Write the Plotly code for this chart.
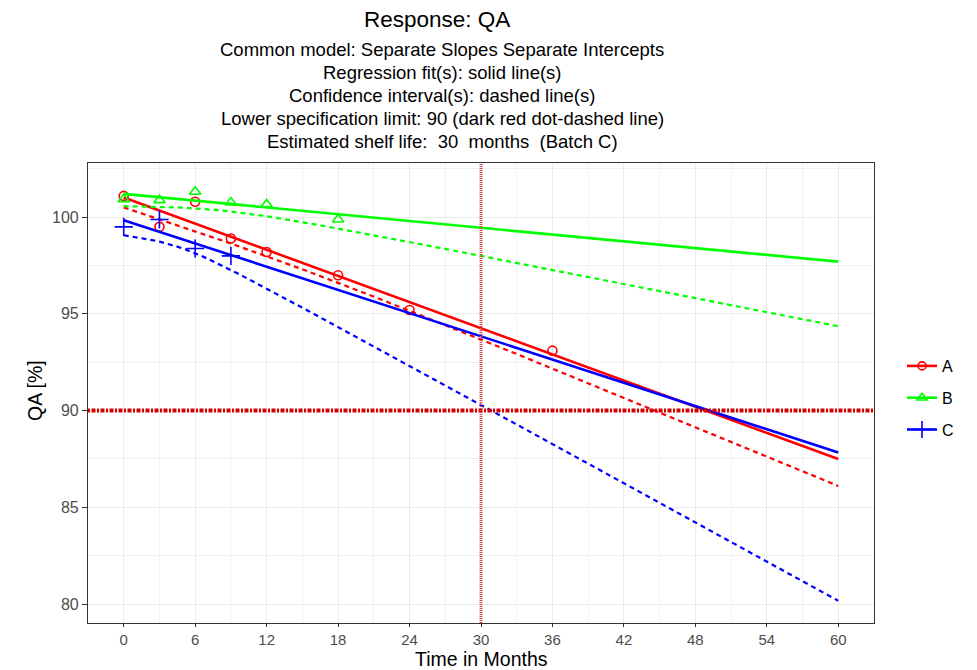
import numpy as np
import plotly.graph_objects as go

# ---------------- data ----------------
batches = ["A", "B", "C"]
time_A = [0, 3, 6, 9, 12, 18, 24, 36]
qa_A = [101.1, 99.5, 100.8, 98.9, 98.2, 97.0, 95.2, 93.1]
time_B = [0, 3, 6, 9, 12, 18]
qa_B = [100.93, 100.88, 101.31, 100.76, 100.66, 99.88]
time_C = [0, 3, 6, 9]
qa_C = [99.5, 99.88, 98.38, 98.0]
lsl = 90
shelf_life = 30
x_ticks = [0, 6, 12, 18, 24, 30, 36, 42, 48, 54, 60]
y_ticks = [80, 85, 90, 95, 100]
t_quantile = 1.7823  # one-sided 95 %, df = 12 (pooled model)

colors = {"A": "#FF0000", "B": "#00FF00", "C": "#0000FF"}
symbols = {"A": "circle-open", "B": "triangle-up-open", "C": "cross-thin-open"}
msize = {"A": 9, "B": 10, "C": 13}
data = {"A": (time_A, qa_A), "B": (time_B, qa_B), "C": (time_C, qa_C)}

# ---------------- separate slopes / separate intercepts fit ----------------
fits = {}
sse = 0.0
n_tot = 0
for b in batches:
    t = np.array(data[b][0], float)
    y = np.array(data[b][1], float)
    slope, icpt = np.polyfit(t, y, 1)
    sse += float(np.sum((y - (icpt + slope * t)) ** 2))
    n_tot += len(t)
    fits[b] = (slope, icpt, t.mean(), np.sum((t - t.mean()) ** 2), len(t))
mse = sse / (n_tot - 2 * len(batches))
s = np.sqrt(mse)
grid = np.linspace(0, 60, 121)

fig = go.Figure()
for b in batches:
    slope, icpt, tm, sxx, n = fits[b]
    fit = icpt + slope * grid
    se = s * np.sqrt(1.0 / n + (grid - tm) ** 2 / sxx)
    lower = fit - t_quantile * se
    fig.add_trace(go.Scatter(x=grid, y=fit, mode="lines", showlegend=False,
                             line=dict(color=colors[b], width=2.6), hoverinfo="skip"))
    fig.add_trace(go.Scatter(x=grid, y=lower, mode="lines", showlegend=False,
                             line=dict(color=colors[b], width=2.2, dash="5px,4px"),
                             hoverinfo="skip"))
    fig.add_trace(go.Scatter(x=data[b][0], y=data[b][1], mode="markers", showlegend=False,
                             marker=dict(symbol=symbols[b], size=msize[b],
                                         color=colors[b], line=dict(color=colors[b], width=1.6))))

# legend entries
for b in batches:
    fig.add_trace(go.Scatter(x=[None], y=[None], mode="lines+markers", name=b,
                             legendgroup=b,
                             line=dict(color=colors[b], width=2.6),
                             marker=dict(symbol=symbols[b], size=msize[b] - 1, color=colors[b],
                                         line=dict(color=colors[b], width=1.6))))

# specification limit and shelf-life lines
fig.add_shape(type="line", xref="paper", yref="y", x0=0, x1=1, y0=lsl, y1=lsl,
              line=dict(color="#D40000", width=4, dash="2px,1.5px,4px,1.5px"), layer="above")
fig.add_shape(type="line", xref="x", yref="paper", x0=shelf_life, x1=shelf_life, y0=0, y1=1,
              line=dict(color="#E04848", width=3, dash="1px,1px"), layer="above")

W, H = 977, 670
ml, mr, mt, mb = 88, 103, 163, 47
pw, ph = W - ml - mr, H - mt - mb


def px_x(x):
    return (x - ml) / pw


def px_y(y):
    return (H - mb - y) / ph


title_lines = ["Common model: Separate Slopes Separate Intercepts",
               "Regression fit(s): solid line(s)",
               "Confidence interval(s): dashed line(s)",
               "Lower specification limit: 90 (dark red dot-dashed line)",
               "Estimated shelf life:  30  months  (Batch C)"]
annotations = [dict(text="Response: QA", x=px_x(437), y=px_y(20), xref="paper", yref="paper",
                    showarrow=False, font=dict(size=22.5, color="black"),
                    xanchor="center", yanchor="middle")]
for i, line in enumerate(title_lines):
    annotations.append(dict(text=line, x=px_x(442), y=px_y(50 + i * 22.8),
                            xref="paper", yref="paper", showarrow=False,
                            font=dict(size=18.5, color="black"),
                            xanchor="center", yanchor="middle"))
annotations.append(dict(text="Time in Months", x=px_x(481), y=px_y(670), xref="paper",
                        yref="paper", showarrow=False, font=dict(size=19.5, color="black"),
                        xanchor="center", yanchor="bottom", yshift=-1, borderpad=0))
annotations.append(dict(text="QA [%]", x=px_x(35), y=px_y(390), xref="paper",
                        yref="paper", showarrow=False, font=dict(size=19.5, color="black"),
                        xanchor="center", yanchor="middle", textangle=-90))

fig.update_layout(
    width=W, height=H,
    margin=dict(l=ml, r=mr, t=mt, b=mb, autoexpand=False),
    paper_bgcolor="white", plot_bgcolor="white",
    font=dict(family="Liberation Sans, Arial, sans-serif", size=13, color="#4D4D4D"),
    annotations=annotations,
    showlegend=True,
    legend=dict(x=px_x(902), xanchor="left", y=px_y(398), yanchor="middle",
                font=dict(size=16, color="black"), tracegroupgap=8,
                bgcolor="rgba(0,0,0,0)"),
    xaxis=dict(range=[-3, 63], tickvals=x_ticks, ticks="outside", ticklen=3,
               tickcolor="#333333", tickwidth=1.2, showgrid=True, gridcolor="#EBEBEB",
               gridwidth=1.1, zeroline=False, showline=True, linecolor="#333333",
               linewidth=1.2, mirror=True, automargin=False,
               minor=dict(dtick=3, tick0=0, showgrid=True, gridcolor="#F2F2F2", gridwidth=0.6),
               tickfont=dict(size=15, color="#4D4D4D")),
    yaxis=dict(range=[79.02, 102.8], tickvals=y_ticks, ticks="outside", ticklen=5,
               tickcolor="#333333", tickwidth=1.2, showgrid=True, gridcolor="#EBEBEB",
               gridwidth=1.1, zeroline=False, showline=True, linecolor="#333333",
               linewidth=1.2, mirror=True, automargin=False,
               minor=dict(dtick=2.5, tick0=80, showgrid=True, gridcolor="#F2F2F2", gridwidth=0.6),
               tickfont=dict(size=16, color="#4D4D4D")),
)

fig.write_html("out.html")
